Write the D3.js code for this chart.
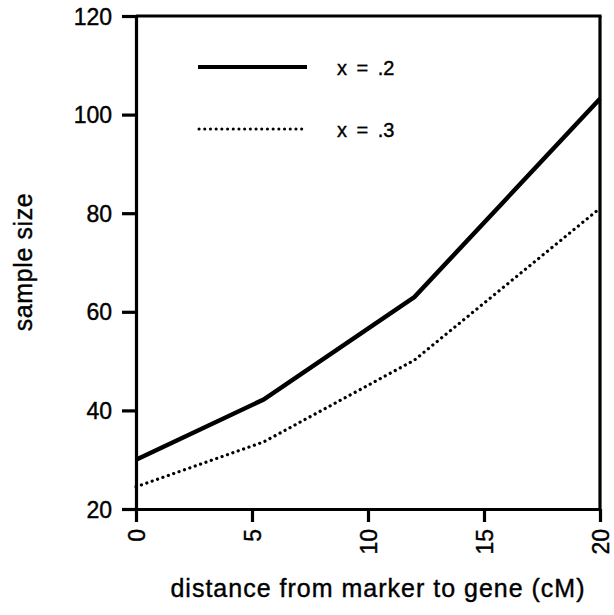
<!DOCTYPE html>
<html>
<head>
<meta charset="utf-8">
<script src="https://cdn.jsdelivr.net/npm/d3@7"></script>
<style>
    body { margin: 0; background: #fff; }
    svg text { font-family: "Liberation Sans", Arial, sans-serif; fill: #000; stroke: #000; stroke-width: 0.4px; }
</style>
</head>
<body>
<div id="chart"></div>
<script>

// Data.
let distances = [0, 5.5, 12, 20];
let sizeX2 = [30, 42.2, 63, 103.2];
let sizeX3 = [24.5, 33.6, 50.2, 81];
let seriesNames = ["x = .2", "x = .3"];
let xTicks = [0, 5, 10, 15, 20];
let yTicks = [20, 40, 60, 80, 100, 120];

let width = 614, height = 615;
let margin = {top: 16, right: 14, bottom: 106, left: 136};

let svg = d3.select("#chart")
    .append("svg")
        .attr("width", width)
        .attr("height", height);

let x = d3.scaleLinear()
    .domain([0, 20])
    .range([margin.left, width - margin.right]);

let y = d3.scaleLinear()
    .domain([20, 120])
    .range([height - margin.bottom, margin.top]);

// Axes
let xAxis = svg.append("g")
    .attr("transform", "translate(0," + y(20) + ")")
    .call(d3.axisBottom(x).tickValues(xTicks).tickSize(13).tickSizeOuter(0).tickPadding(7));

xAxis.selectAll("text")
    .attr("transform", "rotate(-90)")
    .attr("x", -20)
    .attr("y", 0)
    .attr("dy", "0.35em")
    .attr("text-anchor", "end")
    .style("font-size", "23px");

let yAxis = svg.append("g")
    .attr("transform", "translate(" + x(0) + ",0)")
    .call(d3.axisLeft(y).tickValues(yTicks).tickSize(14).tickSizeOuter(0).tickPadding(10));

yAxis.selectAll("text")
    .attr("dy", "0.35em")
    .style("font-size", "23px");

svg.selectAll(".domain, .tick line")
    .attr("stroke", "#000")
    .attr("stroke-width", 3.2);

// Frame on top and right
svg.append("line")
    .attr("x1", x(0)).attr("x2", x(20) + 1.5)
    .attr("y1", y(120)).attr("y2", y(120))
    .attr("stroke", "#000").attr("stroke-width", 3.2);

svg.append("line")
    .attr("x1", x(20)).attr("x2", x(20))
    .attr("y1", y(120)).attr("y2", y(20))
    .attr("stroke", "#000").attr("stroke-width", 3.2);

// Lines
let line = d3.line()
    .x((d, i) => x(distances[i]))
    .y(d => y(d));

svg.append("path")
    .attr("d", line(sizeX2))
    .attr("fill", "none")
    .attr("stroke", "#000")
    .attr("stroke-width", 4.5);

svg.append("path")
    .attr("d", line(sizeX3))
    .attr("fill", "none")
    .attr("stroke", "#000")
    .attr("stroke-width", 3.2)
    .attr("stroke-linecap", "round")
    .attr("stroke-dasharray", "0.1 5.6");

// Legend
let legend = svg.append("g");

legend.append("line")
    .attr("x1", 198).attr("x2", 307)
    .attr("y1", 67).attr("y2", 67)
    .attr("stroke", "#000").attr("stroke-width", 4);

legend.append("line")
    .attr("x1", 199).attr("x2", 306)
    .attr("y1", 129).attr("y2", 129)
    .attr("stroke", "#000").attr("stroke-width", 3)
    .attr("stroke-linecap", "round")
    .attr("stroke-dasharray", "0.1 5.6");

legend.selectAll("text")
    .data(seriesNames)
    .enter().append("text")
        .attr("x", 337)
        .attr("y", (d, i) => 75 + i * 62)
        .style("font-size", "20px")
        .style("word-spacing", "4px")
        .text(d => d);

// Axis titles
svg.append("text")
    .attr("x", 378)
    .attr("y", 597)
    .attr("text-anchor", "middle")
    .style("font-size", "25px")
    .style("letter-spacing", "1px")
    .text("distance from marker to gene (cM)");

svg.append("text")
    .attr("transform", "translate(32,262) rotate(-90)")
    .attr("text-anchor", "middle")
    .style("font-size", "25px")
    .style("letter-spacing", "0.6px")
    .text("sample size");

</script>
</body>
</html>
